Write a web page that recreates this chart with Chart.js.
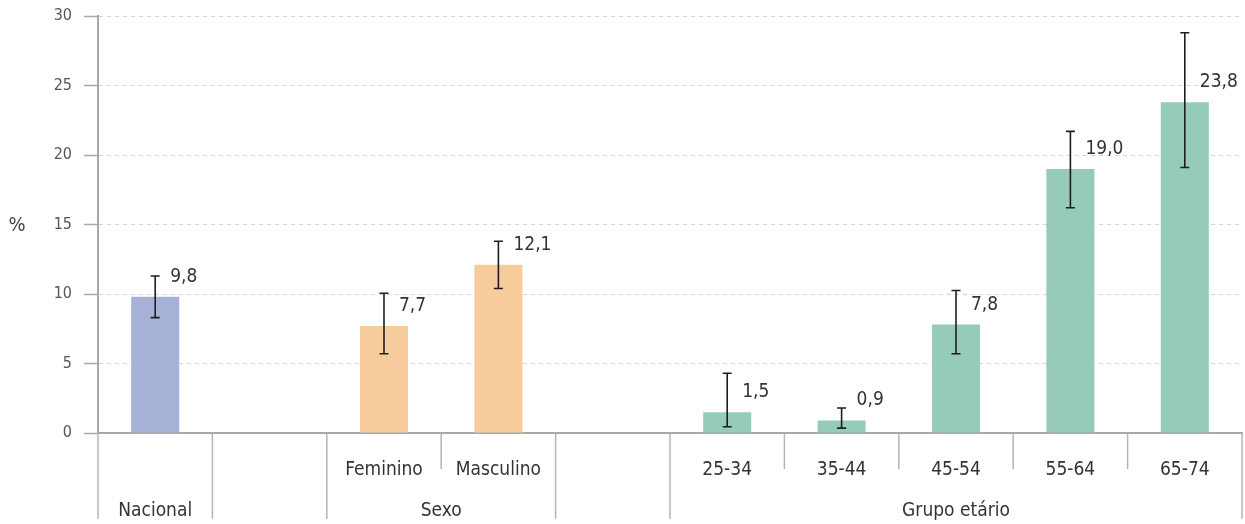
<!DOCTYPE html>
<html>
<head>
<meta charset="utf-8">
<script src="https://cdn.jsdelivr.net/npm/chart.js@4"></script>
<style>
  html, body { margin: 0; padding: 0; background: #fff; }
  #wrap { width: 1245px; height: 524px; }
</style>
</head>
<body>
<div id="wrap"><canvas id="chart" width="1245" height="524"></canvas></div>
<script>
const categories = ['', '', 'Feminino', 'Masculino', '', '25-34', '35-44', '45-54', '55-64', '65-74'];
const values = [9.8, null, 7.7, 12.1, null, 1.5, 0.9, 7.8, 19.0, 23.8];
const lower = [8.3, null, 5.7, 10.4, null, 0.45, 0.35, 5.7, 16.2, 19.1];
const upper = [11.3, null, 10.05, 13.8, null, 4.3, 1.8, 10.25, 21.7, 28.8];
const groupNames = ['Nacional', '', 'Sexo', '', 'Grupo etário'];
const groupSpans = [1, 1, 2, 1, 5];
const groupColors = ['#a7b1d8', null, '#f7cc9c', null, '#96cbbc'];
const yTicks = [0, 5, 10, 15, 20, 25, 30];

const FONT = '"Liberation Sans Narrow", "DejaVu Sans Condensed", sans-serif';

// colour per bar from its group
const barColors = [];
groupSpans.forEach((n, g) => { for (let i = 0; i < n; i++) barColors.push(groupColors[g] || 'rgba(0,0,0,0)'); });

const fmt = v => v.toFixed(1).replace('.', ',');

const extras = {
  id: 'extras',
  afterDatasetsDraw(chart) {
    const ctx = chart.ctx;
    const x = chart.scales.x, y = chart.scales.y;
    const meta = chart.getDatasetMeta(0);
    ctx.save();
    values.forEach((v, i) => {
      if (v == null) return;
      const cx = x.getPixelForValue(i);
      const yt = y.getPixelForValue(upper[i]);
      const yb = y.getPixelForValue(lower[i]);
      ctx.strokeStyle = '#1e1e1e';
      ctx.lineWidth = 1.6;
      ctx.beginPath();
      ctx.moveTo(cx, yt); ctx.lineTo(cx, yb);
      ctx.moveTo(cx - 4.5, yt); ctx.lineTo(cx + 4.5, yt);
      ctx.moveTo(cx - 4.5, yb); ctx.lineTo(cx + 4.5, yb);
      ctx.stroke();
      const top = meta.data[i].y;
      ctx.fillStyle = '#333';
      ctx.font = '19px ' + FONT;
      ctx.textAlign = 'left';
      ctx.textBaseline = 'middle';
      ctx.fillText(fmt(v), cx + 15, top - 20);
    });
    ctx.restore();
  },
  afterDraw(chart) {
    const ctx = chart.ctx;
    const x = chart.scales.x;
    const area = chart.chartArea;
    const half = (x.getPixelForValue(1) - x.getPixelForValue(0)) / 2;
    const edge = i => x.getPixelForValue(i) - half;
    ctx.save();
    ctx.strokeStyle = '#b4b4b4';
    ctx.lineWidth = 1.5;
    ctx.fillStyle = '#333';
    ctx.font = '19px ' + FONT;
    ctx.textAlign = 'center';
    ctx.textBaseline = 'middle';
    // subcategory labels and short separators
    categories.forEach((c, i) => {
      if (c) ctx.fillText(c, x.getPixelForValue(i), 470);
    });
    let start = 0;
    groupSpans.forEach((n, g) => {
      for (let k = 1; k < n; k++) {
        const px = edge(start + k);
        ctx.beginPath(); ctx.moveTo(px, area.bottom); ctx.lineTo(px, 469); ctx.stroke();
      }
      const px = edge(start);
      ctx.beginPath(); ctx.moveTo(px, area.bottom); ctx.lineTo(px, 519); ctx.stroke();
      if (groupNames[g]) {
        const mid = (edge(start) + edge(start + n)) / 2;
        ctx.fillText(groupNames[g], mid, 511);
      }
      start += n;
    });
    const last = edge(start);
    ctx.beginPath(); ctx.moveTo(last, area.bottom); ctx.lineTo(last, 519); ctx.stroke();
    // y axis unit
    ctx.fillStyle = '#444';
    ctx.font = '20px ' + FONT;
    ctx.fillText('%', 17, 226);
    ctx.restore();
  }
};

new Chart(document.getElementById('chart'), {
  type: 'bar',
  data: {
    labels: categories,
    datasets: [{
      data: values,
      backgroundColor: barColors,
      barPercentage: 0.42,
      categoryPercentage: 1.0
    }]
  },
  options: {
    responsive: false,
    animation: false,
    events: [],
    layout: { padding: { top: 16, right: 3, bottom: 0, left: 0 } },
    plugins: { legend: { display: false }, tooltip: { enabled: false } },
    scales: {
      x: {
        grid: { display: false },
        ticks: { display: false },
        border: { display: true, color: '#a8a8a8', width: 2 },
        afterFit(s) { s.height = 91; s.paddingLeft = 0; s.paddingRight = 0; }
      },
      y: {
        min: 0,
        max: 30,
        afterBuildTicks(s) { s.ticks = yTicks.map(v => ({ value: v })); },
        afterFit(s) { s.width = 98; s.paddingTop = 0; s.paddingBottom = 0; },
        grid: {
          color: '#d4d4d4',
          lineWidth: 1,
          tickLength: 14,
          tickColor: '#a8a8a8',
          tickWidth: 1.5
        },
        border: { display: true, color: '#a8a8a8', width: 2, dash: [4, 4] },
        ticks: {
          padding: 12,
          color: '#555',
          font: { family: FONT, size: 16 }
        }
      }
    }
  },
  plugins: [extras]
});
</script>
</body>
</html>
